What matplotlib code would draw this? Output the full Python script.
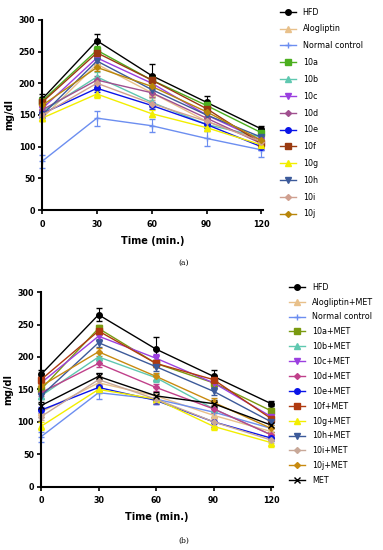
import matplotlib.pyplot as plt
from matplotlib.lines import Line2D

time = [0, 30, 60, 90, 120]

# panel (a)
labels_a = ["HFD", "Alogliptin", "Normal control", "10a", "10b", "10c", "10d",
            "10e", "10f", "10g", "10h", "10i", "10j"]
values_a = [
    [175, 267, 212, 170, 128],
    [145, 230, 185, 140, 110],
    [77, 145, 133, 113, 95],
    [172, 252, 205, 165, 122],
    [155, 210, 170, 135, 115],
    [160, 240, 200, 150, 110],
    [158, 205, 185, 145, 105],
    [152, 192, 165, 135, 100],
    [170, 248, 205, 160, 105],
    [145, 183, 152, 130, 103],
    [150, 235, 190, 150, 115],
    [150, 200, 168, 140, 108],
    [165, 225, 195, 155, 110],
]
errors_a = [
    [8, 10, 18, 10, 5],
    [5, 8, 8, 6, 5],
    [10, 12, 10, 12, 12],
    [6, 6, 8, 6, 5],
    [5, 8, 8, 6, 5],
    [5, 6, 6, 6, 5],
    [5, 6, 6, 6, 5],
    [5, 6, 6, 6, 5],
    [6, 6, 8, 6, 5],
    [5, 6, 6, 6, 5],
    [5, 6, 6, 6, 5],
    [5, 6, 6, 6, 5],
    [5, 6, 6, 6, 5],
]

# panel (b)
labels_b = ["HFD", "Alogliptin+MET", "Normal control", "10a+MET", "10b+MET", "10c+MET",
            "10d+MET", "10e+MET", "10f+MET", "10g+MET", "10h+MET", "10i+MET",
            "10j+MET", "MET"]
values_b = [
    [173, 265, 212, 170, 128],
    [115, 160, 140, 110, 85],
    [77, 145, 135, 115, 90],
    [150, 244, 190, 160, 117],
    [140, 200, 168, 120, 80],
    [160, 232, 198, 160, 108],
    [145, 190, 153, 120, 80],
    [118, 153, 133, 100, 75],
    [165, 240, 190, 165, 105],
    [93, 150, 135, 93, 68],
    [140, 222, 185, 147, 100],
    [108, 165, 135, 100, 72],
    [155, 208, 170, 130, 90],
    [125, 170, 140, 128, 95],
]
errors_b = [
    [7, 10, 18, 10, 4],
    [5, 6, 6, 6, 5],
    [8, 10, 8, 8, 8],
    [6, 6, 6, 6, 5],
    [5, 6, 6, 6, 5],
    [5, 6, 6, 6, 5],
    [5, 6, 6, 6, 5],
    [5, 6, 6, 8, 5],
    [6, 6, 6, 6, 5],
    [6, 6, 6, 6, 6],
    [5, 6, 6, 6, 5],
    [5, 6, 6, 6, 5],
    [5, 6, 6, 6, 5],
    [5, 6, 6, 6, 5],
]

colors_a = ["#000000", "#e8c08a", "#6c8ef0", "#4caf1f", "#5fc8b0", "#9b3fe0", "#a0508f",
            "#0a14e8", "#9a3a10", "#f2ee00", "#3c5a9a", "#d0a090", "#b8860b"]
markers_a = ["o", "^", "+", "s", "^", "v", "D", "o", "s", "^", "v", "D", "D"]
colors_b = colors_a[:3] + ["#7a9a10", "#5fc8b0", "#9b3fe0", "#c0408a", "#0a14e8",
                           "#b03a10", "#f2ee00", "#3c5a9a", "#c8a898", "#c88a10", "#000000"]
markers_b = markers_a + ["x"]


def draw_panel(ax, labels, values, errors, colors, markers, legend_anchor, spacing):
    handles = []
    for lab, v, e, c, m in zip(labels, values, errors, colors, markers):
        ms = 3 if m == "D" else 4
        ax.errorbar(time, v, yerr=e, color=c, marker=m, markersize=ms, lw=1,
                    elinewidth=0.8, capsize=2, clip_on=False)
        handles.append(Line2D([], [], color=c, marker=m, markersize=ms, lw=1, label=lab))
    ax.set_xlim(0, 121)
    ax.set_ylim(0, 300)
    ax.set_xticks(time)
    ax.set_yticks(range(0, 301, 50))
    for s in ["top", "right"]:
        ax.spines[s].set_visible(False)
    for s in ["left", "bottom"]:
        ax.spines[s].set_linewidth(1.5)
    ax.tick_params(width=1.2, length=3, labelsize=5.8, pad=2)
    ax.tick_params(axis="x", pad=4)
    for t in ax.get_xticklabels() + ax.get_yticklabels():
        t.set_fontweight("bold")
    ax.set_xlabel("Time (min.)", fontsize=7, fontweight="bold", labelpad=5)
    ax.set_ylabel("mg/dl", fontsize=7, fontweight="bold", labelpad=3)
    ax.legend(handles=handles, loc="upper left", bbox_to_anchor=legend_anchor,
              bbox_transform=fig.transFigure, frameon=False, fontsize=5.8,
              handlelength=2, labelspacing=spacing, borderaxespad=0, handletextpad=0.8)


fig = plt.figure(figsize=(3.83, 5.5), dpi=100)
ax1 = fig.add_axes([0.110, 0.618, 0.577, 0.346])
ax2 = fig.add_axes([0.107, 0.115, 0.606, 0.354])

draw_panel(ax1, labels_a, values_a, errors_a, colors_a, markers_a, (0.723, 0.992), 0.97)
draw_panel(ax2, labels_b, values_b, errors_b, colors_b, markers_b, (0.747, 0.492), 0.73)

fig.text(0.48, 0.522, "(a)", fontsize=5.5, family="serif", ha="center", va="center")
fig.text(0.48, 0.016, "(b)", fontsize=5.5, family="serif", ha="center", va="center")

fig.savefig("out.png", dpi=100)
